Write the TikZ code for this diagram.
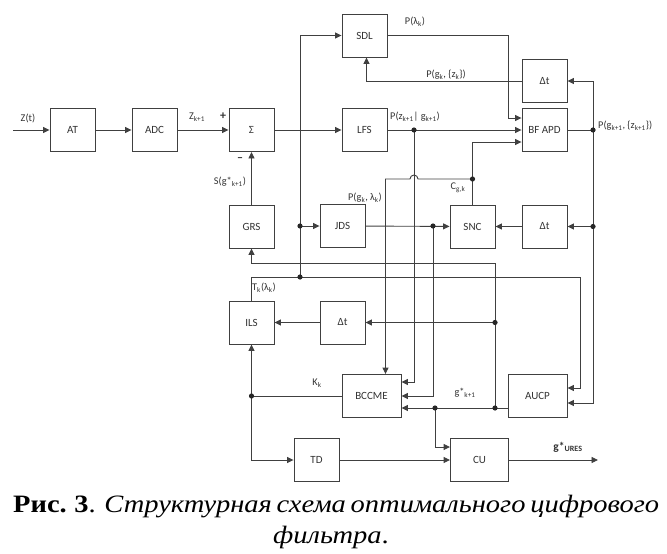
\documentclass[tikz,border=0pt]{standalone}
\usepackage{fontspec}
\setmainfont{Liberation Serif}
\newfontfamily\diagfont{Carlito}
\newfontfamily\capfont[FakeStretch=1.14]{Liberation Serif}
\usepackage{tikz}
\usetikzlibrary{arrows.meta}

\begin{document}
\begin{tikzpicture}[x=1pt,y=-1pt,font=\diagfont\fontsize{11}{13}\selectfont,
  blk/.style={draw=black!75,line width=0.9pt,minimum width=45pt,minimum height=43pt,inner sep=0pt,text=black!80},
  arr/.style={-{Triangle[length=6.5pt,width=6pt]},draw=black!75,line width=0.9pt},
  ln/.style={draw=black!75,line width=0.9pt},
  lbl/.style={font=\diagfont\fontsize{10.3}{12}\selectfont,text=black!80,inner sep=0pt}]
\useasboundingbox (0,0) rectangle (667,554);
\node[blk] (AT) at (72.5,130) {AT};
\node[blk] (ADC) at (154.5,130) {ADC};
\node[blk] (SUM) at (251.5,130) {Σ};
\node[blk] (SDL) at (364.5,35.5) {SDL};
\node[blk] (DT1) at (544.5,81) {Δt};
\node[blk] (LFS) at (364.5,130) {LFS};
\node[blk] (BF) at (544.5,130) {BF APD};
\node[blk] (GRS) at (251.5,226.5) {GRS};
\node[blk] (JDS) at (342.5,226) {JDS};
\node[blk] (SNC) at (472.5,226.5) {SNC};
\node[blk] (DT2) at (544.5,226.5) {Δt};
\node[blk] (ILS) at (251.5,322.5) {ILS};
\node[blk] (DT3) at (342.5,322.5) {Δt};
\node[blk,minimum width=59pt] (BCC) at (371.5,396) {BCCME};
\node[blk,minimum width=59pt] (AUCP) at (537.5,396) {AUCP};
\node[blk] (TD) at (316.5,460) {TD};
\node[blk,minimum width=58pt] (CU) at (479.5,460) {CU};

\coordinate (zin) at (13,130);
\coordinate (gout) at (598,460);
\coordinate (pL) at (414,130);
\coordinate (pB) at (593,130);
\coordinate (pD) at (593,226.5);
\coordinate (pJ) at (433,226);
\coordinate (pC) at (472.5,179);
\coordinate (pT) at (300,277);
\coordinate (pS) at (300,226);
\coordinate (pG) at (495,322.5);
\coordinate (pA) at (495,408);
\coordinate (pU) at (435,408);
\coordinate (pK) at (251.5,396);
\coordinate (g1) at (495,263);
\coordinate (r1) at (580,277);
\coordinate (bfA) at ([yshift=12pt]BF.west);
\coordinate (bfC) at ([yshift=-12pt]BF.west);
\coordinate (bcA) at ([yshift=14pt]BCC.east);
\coordinate (bcG) at ([yshift=-12pt]BCC.east);
\coordinate (bcT) at ([xshift=14pt]BCC.north);
\coordinate (auA) at ([yshift=8pt]AUCP.east);
\coordinate (auB) at ([yshift=-7pt]AUCP.east);
\coordinate (auO) at ([yshift=-12pt]AUCP.west);
\coordinate (cuA) at ([yshift=13pt]CU.west);

\draw[arr] (zin) -- (AT);
\draw[arr] (AT) -- (ADC);
\draw[arr] (ADC) -- (SUM);
\draw[arr] (SUM) -- (LFS);
\draw[arr] (GRS) -- (SUM);
\draw[arr] (pT) |- (SDL.west);
\draw[arr] (pS) -- (JDS.west);
\draw[arr] (SDL.east) -| ([xshift=-13pt]bfA) -- (bfA);
\draw[arr] (DT1.west) -| ([xshift=2pt]SDL.south);
\draw[arr] (LFS) -- (BF);
\draw[ln] (BF) -- (pB);
\draw[arr] (pB) |- (DT1.east);
\draw[arr] (pB) |- (auB);
\draw[arr] (pD) -- (DT2);
\draw[arr] (DT2) -- (SNC);
\draw[arr] (JDS) -- (SNC);
\draw[arr] (SNC.north) |- (bfC);
\draw[arr] (pC) -- (418,179) arc[start angle=0,end angle=-180,radius=4] -- (bcT |- pC) -- (bcT);
\draw[arr] (pL) |- (bcA);
\draw[arr] (pJ) |- (BCC.east);
\draw[arr] (auO) -- (bcG);
\draw[arr] (pA) -- (g1) -| (GRS.south);
\draw[arr] (pG) -- (DT3);
\draw[arr] (DT3) -- (ILS);
\draw[arr] (ILS.north) |- (r1) |- (auA);
\draw[ln] (BCC.west) -- (pK);
\draw[arr] (pK) -- (ILS.south);
\draw[arr] (pK) |- (TD.west);
\draw[arr] (TD) -- (CU);
\draw[arr] (pU) |- (cuA);
\draw[arr] (CU) -- (gout);
\foreach \p in {pL,pB,pD,pJ,pC,pT,pS,pG,pA,pU,pK}
  \fill[black!85] (\p) circle (2.6);

\node[lbl] (lz) at (28,118) {Z(t)};
\node[lbl] (lzk) at (197,117) {Z\textsubscript{k+1}};
\node[lbl,font=\diagfont\bfseries\fontsize{12}{13}\selectfont] (lplus) at (223,116) {+};
\node[lbl,font=\diagfont\bfseries\fontsize{12}{13}\selectfont] (lminus) at (240,160) {–};
\node[lbl] (ls) at (230,182) {S(g*\textsubscript{k+1})};
\node[lbl] (lpl) at (415,22) {P(λ\textsubscript{k})};
\node[lbl] (lpg) at (446,75) {P(g\textsubscript{k}, \{z\textsubscript{k}\})};
\node[lbl] (lpz) at (415,117) {P(z\textsubscript{k+1}| g\textsubscript{k+1})};
\node[lbl,anchor=west] (lpo) at (598,126) {P(g\textsubscript{k+1}, \{z\textsubscript{k+1}\})};
\node[lbl] (lc) at (458,188) {C\textsubscript{g,k}};
\node[lbl] (lpj) at (365,198) {P(g\textsubscript{k}, λ\textsubscript{k})};
\node[lbl] (lt) at (264,288) {T\textsubscript{k}(λ\textsubscript{k})};
\node[lbl] (lk) at (317,383) {K\textsubscript{k}};
\node[lbl] (lg) at (465,393) {g*\textsubscript{k+1}};
\node[lbl,font=\diagfont\bfseries\fontsize{11.5}{13}\selectfont] (lu) at (568,447) {g*\textsubscript{URES}};

\node[anchor=base west,inner sep=0pt,font=\capfont\fontsize{25}{30}\selectfont] (cap1) at (13,512)
  {\makebox[642pt][s]{\textbf{Рис.\hspace{0.3em}3}. \textit{Структурная схема оптимального цифрового}}};
\node[anchor=base,inner sep=0pt,font=\capfont\fontsize{25}{30}\selectfont] (cap2) at (331,543) {\textit{фильтра}.};
\end{tikzpicture}
\end{document}
